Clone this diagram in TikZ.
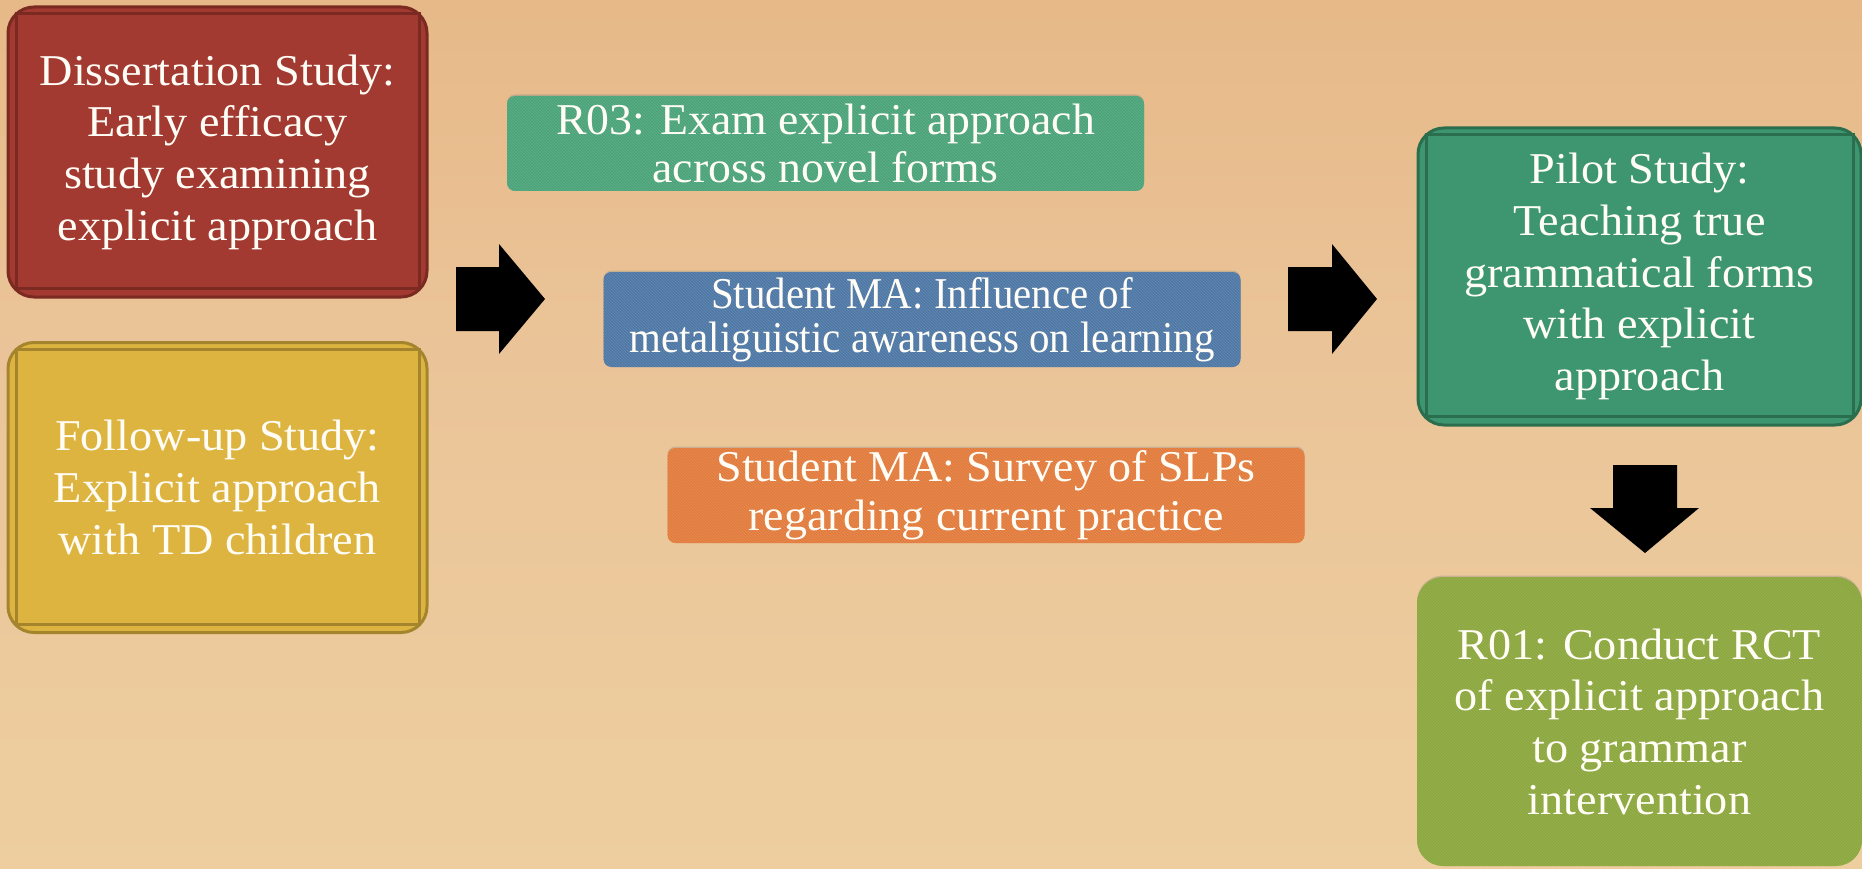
\documentclass[tikz,border=0pt]{standalone}
\usepackage{fontspec}
\setmainfont{Liberation Serif}
\newfontfamily\bigfont[FakeStretch=1.05]{Liberation Serif}
\newfontfamily\condfont[FakeStretch=0.93]{Liberation Serif}
\usetikzlibrary{patterns,shadows}
\definecolor{bgTop}{HTML}{E3AB75}
\definecolor{bgMid}{HTML}{EAC498}
\definecolor{bgBot}{HTML}{F3DDA9}
\definecolor{dissF}{HTML}{A23A31}
\definecolor{dissB}{HTML}{7A2A21}
\definecolor{follF}{HTML}{DEB441}
\definecolor{follB}{HTML}{A4852E}
\definecolor{pilotF}{HTML}{3D9670}
\definecolor{pilotB}{HTML}{2B6E4E}
\definecolor{rthreeF}{HTML}{4CA47A}
\definecolor{blueF}{HTML}{4F78A6}
\definecolor{orangeF}{HTML}{E27C3E}
\definecolor{roneF}{HTML}{8DA840}
\definecolor{txt}{HTML}{FFFDF6}
\pgfdeclareverticalshading{bgshade}{100bp}{color(0bp)=(bgBot); color(25bp)=(bgMid!60!bgBot); color(55bp)=(bgMid); color(100bp)=(bgTop)}
\begin{document}
\begin{tikzpicture}[x=1pt,y=-1pt,
  bigbox/.style={rectangle, rounded corners=26pt, line width=3pt, text=txt,
    align=center, inner sep=0pt, minimum width=419pt, minimum height=290pt,
    font={\bigfont\fontsize{44}{51.7}\selectfont}},
  smallbox/.style={rectangle, rounded corners=8pt, text=txt, align=center,
    inner sep=0pt, minimum width=637pt, minimum height=95pt,
    fill=#1, postaction={pattern=north west lines, pattern color=#1!88!white},
    drop shadow={shadow xshift=0pt, shadow yshift=1.5pt, opacity=0.3}},
  inframe/.style={line width=3pt},
  blockarrow/.style={fill=black}]

% background
\shade[shading=bgshade] (0,0) rectangle (1862,869);
\useasboundingbox (0,0) rectangle (1862,869);

% left column
\node[bigbox, fill=dissF, draw=dissB] (diss) at (217.5,152)
  {Dissertation Study:\\Early efficacy\\study examining\\explicit approach};
\draw[inframe, dissB] ([xshift=10pt,yshift=-8pt]diss.north west) rectangle ([xshift=-9pt,yshift=10pt]diss.south east);

\node[bigbox, fill=follF, draw=follB] (foll) at (217.5,487.5)
  {Follow-up Study:\\Explicit approach\\with TD children};
\draw[inframe, follB] ([xshift=10pt,yshift=-8pt]foll.north west) rectangle ([xshift=-9pt,yshift=10pt]foll.south east);

% middle column
\node[smallbox=rthreeF, font={\fontsize{44}{48}\selectfont\addfontfeatures{FakeStretch=1.04}}] (r03) at (825.5,143.5)
  {R03: Exam explicit approach\\across novel forms};
\node[smallbox=blueF, font={\condfont\fontsize{44}{44}\selectfont}] (ma1) at (922,319.5)
  {Student MA: Influence of\\metaliguistic awareness on learning};
\node[smallbox=orangeF, font={\fontsize{44}{49}\selectfont\addfontfeatures{FakeStretch=1.045}}] (ma2) at (986,495.5)
  {Student MA: Survey of SLPs\\regarding current practice};

% right column
\node[bigbox, fill=pilotF, draw=pilotB, minimum width=443pt, minimum height=297pt] (pilot) at (1639.5,276.5)
  {Pilot Study:\\Teaching true\\grammatical forms\\with explicit\\approach};
\draw[inframe, pilotB] ([xshift=10pt,yshift=-8pt]pilot.north west) rectangle ([xshift=-9pt,yshift=10pt]pilot.south east);

\node[bigbox, fill=roneF, line width=0pt, minimum width=445pt, minimum height=289pt,
  drop shadow={shadow xshift=0pt, shadow yshift=1.5pt, opacity=0.3},
  postaction={pattern=north west lines, pattern color=roneF!90!white}] (r01) at (1639.5,721.5)
  {R01: Conduct RCT\\of explicit approach\\to grammar\\intervention};

% block arrows
\fill[blockarrow] (456,267) -- (499,267) -- (499,244) -- (545,299) -- (499,354) -- (499,331) -- (456,331) -- cycle;
\fill[blockarrow] (1288,267) -- (1332,267) -- (1332,244) -- (1377,299) -- (1332,354) -- (1332,331) -- (1288,331) -- cycle;
\fill[blockarrow] (1613,465) -- (1677,465) -- (1677,508) -- (1699,508) -- (1645,553) -- (1590,508) -- (1613,508) -- cycle;
\end{tikzpicture}
\end{document}
